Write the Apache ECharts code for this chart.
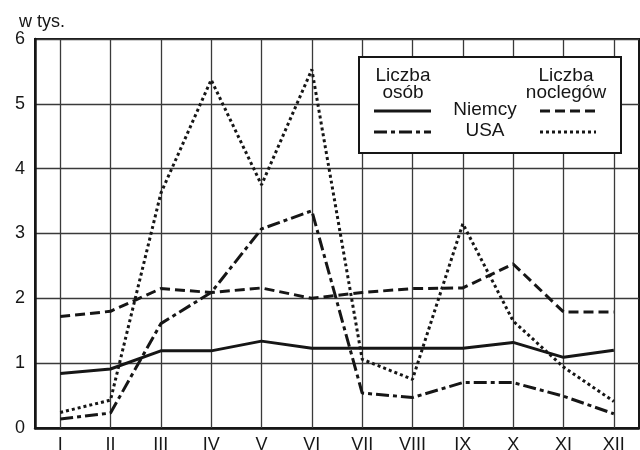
<!DOCTYPE html>
<html>
<head>
<meta charset="utf-8">
<script src="https://cdn.jsdelivr.net/npm/echarts@6/dist/echarts.min.js"></script>
<style>html,body{margin:0;padding:0;background:#fff}#c{width:640px;height:450px}</style>
</head>
<body>
<div id="c"></div>
<script>
const months = ['I','II','III','IV','V','VI','VII','VIII','IX','X','XI','XII'];
const yTicks = [0,1,2,3,4,5,6];
const niemcyOsob = [0.84,0.91,1.19,1.19,1.34,1.23,1.23,1.23,1.23,1.32,1.09,1.20];
const usaOsob = [0.14,0.23,1.61,2.09,3.07,3.35,0.54,0.47,0.70,0.70,0.49,0.22];
const niemcyNoclegow = [1.72,1.80,2.15,2.09,2.16,2.00,2.09,2.15,2.16,2.53,1.79,1.79];
const usaNoclegow = [0.24,0.43,3.62,5.37,3.75,5.53,1.06,0.75,3.15,1.65,0.94,0.41];

const ink = '#161616';
const FONT = 'Liberation Sans, Arial, sans-serif';
const styles = {
  solid: 'solid',
  dashed: [10,5],
  dashdot: [13,4,4,4],
  dotted: [3,3]
};
function line(name, data, dash){
  return {name, type:'line', data, showSymbol:false, symbol:'none', silent:true,
    lineStyle:{color:ink, width:3, type:dash, cap:'butt'}, z:5};
}
const chart = echarts.init(document.getElementById('c'), null, {renderer:'canvas'});
const series = [
  line('Niemcy – liczba osób', niemcyOsob, styles.solid),
  line('USA – liczba osób', usaOsob, styles.dashdot),
  line('Niemcy – liczba noclegów', niemcyNoclegow, styles.dashed),
  line('USA – liczba noclegów', usaNoclegow, styles.dotted),
  {type:'line', data:[], silent:true,
   markLine:{silent:true, symbol:'none', label:{show:false},
     lineStyle:{color:'#3a3a3a', width:1.3, type:'solid'},
     data: months.map(m => ({xAxis:m}))}, z:1}
];
const lx = 358, ly = 56;
const lf = '19px ' + FONT;
chart.setOption({
  animation:false,
  backgroundColor:'#fff',
  title:{text:'w tys.', left:14, top:8, textStyle:{fontFamily:FONT, fontSize:18, fontWeight:'normal', color:ink}},
  grid:{left:35, right:1, top:39, bottom:22, outerBoundsMode:'none', containLabel:false,
    show:true, borderColor:ink, borderWidth:2},
  xAxis:{type:'category', data:months, boundaryGap:true,
    axisLine:{lineStyle:{color:ink, width:2.5}}, axisTick:{show:false},
    splitLine:{show:false},
    axisLabel:{fontFamily:FONT, fontSize:18, color:ink, margin:8}},
  yAxis:{type:'value', min:0, max:6, interval:1,
    axisLine:{show:true, lineStyle:{color:ink, width:2.5}}, axisTick:{show:false},
    splitLine:{show:true, lineStyle:{color:'#3a3a3a', width:1.3}},
    axisLabel:{fontFamily:FONT, fontSize:18, color:ink, margin:10,
      formatter: v => yTicks.includes(v) ? String(v) : ''}},
  series,
  graphic:[
    {type:'rect', left:lx, top:ly, z:100, shape:{width:262, height:96},
      style:{fill:'#fff', stroke:ink, lineWidth:2}},
    {type:'text', z:101, x:403, y:76, style:{text:'Liczba', font:lf, fill:ink, textAlign:'center', textVerticalAlign:'middle'}},
    {type:'text', z:101, x:403, y:93, style:{text:'osób', font:lf, fill:ink, textAlign:'center', textVerticalAlign:'middle'}},
    {type:'text', z:101, x:566, y:76, style:{text:'Liczba', font:lf, fill:ink, textAlign:'center', textVerticalAlign:'middle'}},
    {type:'text', z:101, x:566, y:93, style:{text:'noclegów', font:lf, fill:ink, textAlign:'center', textVerticalAlign:'middle'}},
    {type:'text', z:101, x:485, y:110, style:{text:'Niemcy', font:lf, fill:ink, textAlign:'center', textVerticalAlign:'middle'}},
    {type:'text', z:101, x:485, y:131, style:{text:'USA', font:lf, fill:ink, textAlign:'center', textVerticalAlign:'middle'}},
    {type:'line', z:101, shape:{x1:374, y1:111, x2:431, y2:111}, style:{stroke:ink, lineWidth:3}},
    {type:'line', z:101, shape:{x1:374, y1:132, x2:431, y2:132}, style:{stroke:ink, lineWidth:3, lineDash:styles.dashdot}},
    {type:'line', z:101, shape:{x1:540, y1:111, x2:596, y2:111}, style:{stroke:ink, lineWidth:3, lineDash:styles.dashed}},
    {type:'line', z:101, shape:{x1:540, y1:132, x2:596, y2:132}, style:{stroke:ink, lineWidth:3, lineDash:styles.dotted}}
  ]
});
</script>
</body>
</html>
